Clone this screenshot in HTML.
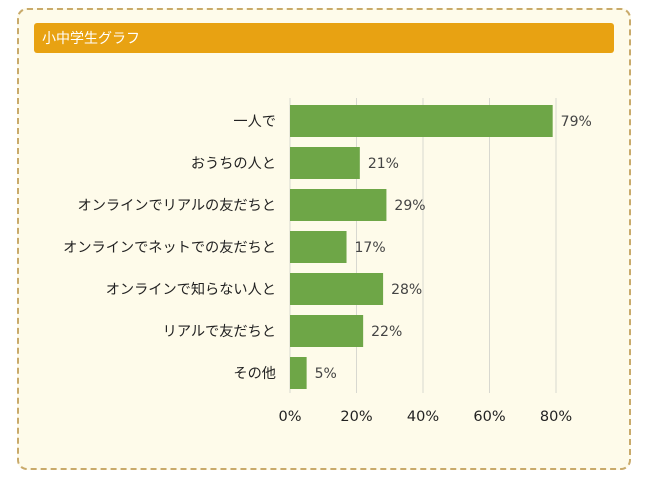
<!DOCTYPE html>
<html><head><meta charset="utf-8"><style>
body{margin:0;width:648px;height:484px;background:#fff;font-family:"Liberation Sans","Noto Sans CJK JP",sans-serif;position:relative;overflow:hidden}
#box{position:absolute;left:17px;top:8px;width:610px;height:458px;border:2px dashed #c9aa6a;border-radius:10px;background:#fefbea}
#hdr{position:absolute;left:34px;top:23px;width:580px;height:30px;background:#e8a212;border-radius:3px;color:#fff;font-size:14px;line-height:30px;text-indent:8px}
svg{position:absolute;left:0;top:0}
</style></head><body>
<div id="box"></div>
<div id="hdr">小中学生グラフ</div>
<svg id="c" width="648" height="484"></svg>
<script>
const categories=["一人で","おうちの人と","オンラインでリアルの友だちと","オンラインでネットでの友だちと","オンラインで知らない人と","リアルで友だちと","その他"];
const values=[79,21,29,17,28,22,5];
const ticks=[0,20,40,60,80];
const tickLabels=["0%","20%","40%","60%","80%"];
const NS="http://www.w3.org/2000/svg",svg=document.getElementById('c');
const x0=290,pxPer=266/80,yTop=100,step=42,bh=32;
const X=v=>x0+v*pxPer, Y=i=>yTop+i*step+step/2;
const NUM='"DejaVu Sans",sans-serif';
function el(t,a){const e=document.createElementNS(NS,t);for(const k in a)e.setAttribute(k,a[k]);svg.appendChild(e);return e;}
ticks.forEach((t,i)=>{
 const g=el('line',{x1:X(t),x2:X(t),y1:98,y2:393,stroke:'#d8d8d0','stroke-width':1});
 
 
 const l=el('text',{x:X(t),y:421,'text-anchor':'middle','font-size':14.5,fill:'#222','font-family':NUM});
 l.textContent=tickLabels[i];
 
 
});
categories.forEach((c,i)=>{
 const r=el('rect',{x:X(0),y:Y(i)-bh/2,width:X(values[i])-X(0),height:bh,fill:'#6ea647'});
 
 
 const v=el('text',{x:X(values[i])+8,y:Y(i)+5,'font-size':14,fill:'#444','font-family':NUM});
 v.textContent=values[i]+'%';
 
 
 const t=el('text',{x:276,y:Y(i)+5,'text-anchor':'end','font-size':14.2,fill:'#222'});
 t.textContent=c;
 
 
});
</script>
</body></html>
